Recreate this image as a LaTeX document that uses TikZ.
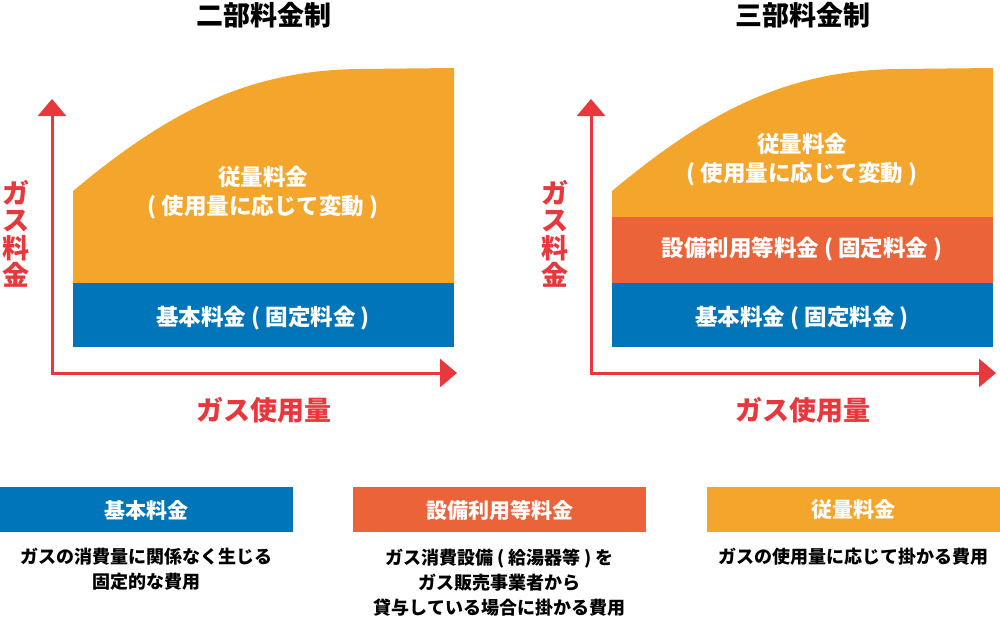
\documentclass[tikz,border=0pt]{standalone}
\usepackage{fontspec}
\setmainfont{Noto Sans CJK JP}
\usetikzlibrary{arrows.meta}
\definecolor{cblue}{HTML}{0075B9}
\definecolor{corange}{HTML}{F4A52B}
\definecolor{cred}{HTML}{EA6339}
\definecolor{caxis}{HTML}{E8383D}
\tikzset{
  axis/.style={draw=caxis,line width=3pt,{Triangle[length=17pt,width=28pt]}-{Triangle[length=17pt,width=28pt]}},
  bandtext/.style={text=white,font=\bfseries\fontsize{22.5}{29}\selectfont,align=center},
  titletext/.style={text=black,font=\bfseries\fontsize{27}{30}\selectfont},
  axislabel/.style={text=caxis,font=\bfseries\fontsize{27}{27.5}\selectfont,align=center},
  boxtitle/.style={text=white,font=\bfseries\fontsize{21}{22}\selectfont},
  desc/.style={text=black,font=\bfseries\fontsize{18}{25}\selectfont,align=center},
}
\begin{document}
\begin{tikzpicture}[x=1pt,y=-1pt]
\useasboundingbox (0,0) rectangle (1000,618);
% ---------- left chart ----------
\fill[corange] (73,283) -- (73,191) .. controls (170,110) and (250,70) .. (360,69) -- (454,68) -- (454,283) -- cycle;
\fill[cblue] (73,283) rectangle (454,347);
\node[bandtext] (lvar) at (263,193) {従量料金\\( 使用量に応じて変動 )};
\node[bandtext] (lbase) at (263,318) {基本料金 ( 固定料金 )};
\coordinate (ly) at (52,99);
\coordinate (lo) at (52,373);
\coordinate (lx) at (457,373);
\draw[axis] (ly) -- (lo) -- (lx);
\node[titletext] (ltitle) at (264,15) {二部料金制};
\node[axislabel] (lylab) at (16,234) {ガ\\ス\\料\\金};
\node[axislabel] (lxlab) at (264,410) {ガス使用量};
% ---------- right chart ----------
\fill[corange] (612,217) -- (612,191) .. controls (709,110) and (789,70) .. (899,69) -- (993,68) -- (993,217) -- cycle;
\fill[cred] (612,217) rectangle (993,283);
\fill[cblue] (612,283) rectangle (993,347);
\node[bandtext] (rvar) at (802,160) {従量料金\\( 使用量に応じて変動 )};
\node[bandtext] (requip) at (802,249) {設備利用等料金 ( 固定料金 )};
\node[bandtext] (rbase) at (802,318) {基本料金 ( 固定料金 )};
\coordinate (ry) at (591,99);
\coordinate (ro) at (591,373);
\coordinate (rx) at (996,373);
\draw[axis] (ry) -- (ro) -- (rx);
\node[titletext] (rtitle) at (803,15) {三部料金制};
\node[axislabel] (rylab) at (555,234) {ガ\\ス\\料\\金};
\node[axislabel] (rxlab) at (803,410) {ガス使用量};
% ---------- legend boxes ----------
\fill[cblue] (0,487) rectangle (293,532);
\fill[cred] (353,487) rectangle (646,532);
\fill[corange] (707,487) rectangle (1000,532);
\node[boxtitle] (t1) at (146.5,510) {基本料金};
\node[boxtitle] (t2) at (499.5,510) {設備利用等料金};
\node[boxtitle] (t3) at (853.5,510) {従量料金};
\node[desc,anchor=north] (d1) at (146.5,545) {ガスの消費量に関係なく生じる\\固定的な費用};
\node[desc,anchor=north] (d2) at (499.5,545) {ガス消費設備 ( 給湯器等 ) を\\ガス販売事業者から\\貸与している場合に掛かる費用};
\node[desc,anchor=north] (d3) at (853.5,545) {ガスの使用量に応じて掛かる費用};
\end{tikzpicture}
\end{document}
